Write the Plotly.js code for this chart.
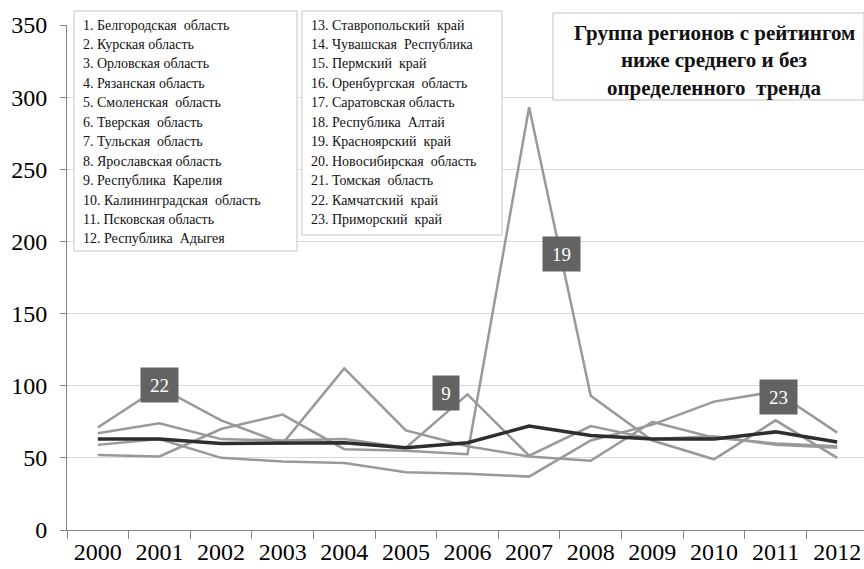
<!DOCTYPE html>
<html>
<head>
<meta charset="utf-8">
<script src="https://cdn.plot.ly/plotly-3.0.1.min.js"></script>
<style>
html,body{margin:0;padding:0;overflow:hidden;background:#fff;}
#chart{width:870px;height:569px;}
</style>
</head>
<body>
<div id="chart"></div>
<script>
// ---- data ----
const years = ['2000','2001','2002','2003','2004','2005','2006','2007','2008','2009','2010','2011','2012'];
const r22 = [71, 99, 76, 60, 112, 69, 58, 51, 48, 75, 64, 60, 58];
const r9  = [67, 74, 63, 62, 63, 57, 94, 51.5, 72, 63, 65, 59, 57];
const r19 = [52, 51, 70, 80, 56, 55, 52.5, 293, 93, 62, 49, 76, 50];
const r23 = [59, 63, 50, 47.5, 46.5, 40, 39, 37, 62, 73, 89, 96, 67.5];
const avg = [63, 63, 60, 60, 60.5, 57, 60.5, 72, 65.5, 63, 63, 68, 61];
const seriesLabels = ['22', '9', '19', '23'];
const legendLeft = [
 '1. Белгородская  область','2. Курская область','3. Орловская область','4. Рязанская область',
 '5. Смоленская  область','6. Тверская  область','7. Тульская  область','8. Ярославская область',
 '9. Республика  Карелия','10. Калининградская  область','11. Псковская область','12. Республика  Адыгея'];
const legendRight = [
 '13. Ставропольский  край','14. Чувашская  Республика','15. Пермский  край','16. Оренбургская  область',
 '17. Саратовская область','18. Республика  Алтай','19. Красноярский  край','20. Новосибирская  область',
 '21. Томская  область','22. Камчатский  край','23. Приморский  край'];
const titleLines = ['Группа регионов с рейтингом','ниже среднего и без','определенного  тренда'];

// ---- geometry helpers ----
const W = 870, H = 569, ML = 67, MR = 2, MT = 25, MB = 39;
const PW = W - ML - MR, PH = H - MT - MB;
const px = v => (v - ML) / PW;
const py = v => (H - MB - v) / PH;

const gray = '#999999';
const mk = (y, c, w) => ({x: years, y: y, type: 'scatter', mode: 'lines',
  line: {color: c, width: w}, hoverinfo: 'skip'});
const traces = [mk(r19, gray, 2.5), mk(r23, gray, 2.5), mk(r9, gray, 2.5), mk(r22, gray, 2.5), mk(avg, '#2e2e2e', 3.5)];

const serif = 'Liberation Serif';
const annotations = [];
const shapes = [];

// data label boxes
const labelPos = [[1, 100.5, 37], [5.65, 95.3, 26], [7.53, 191.4, 37], [11.04, 92.5, 37]];
seriesLabels.forEach((t, i) => {
  annotations.push({x: labelPos[i][0], y: labelPos[i][1], xref: 'x', yref: 'y', text: t,
    showarrow: false, bgcolor: '#636363', borderpad: 0, width: labelPos[i][2], height: 34,
    font: {family: serif, size: 19, color: '#ffffff'}, xanchor: 'center', yanchor: 'middle'});
});

// legend boxes
shapes.push({type: 'rect', xref: 'paper', yref: 'paper', x0: px(74), x1: px(297), y0: py(251), y1: py(11),
  line: {color: '#c4c4c4', width: 1}, fillcolor: '#ffffff', layer: 'above'});
shapes.push({type: 'rect', xref: 'paper', yref: 'paper', x0: px(302), x1: px(502), y0: py(235), y1: py(11),
  line: {color: '#c4c4c4', width: 1}, fillcolor: '#ffffff', layer: 'above'});
shapes.push({type: 'rect', xref: 'paper', yref: 'paper', x0: px(553), x1: px(864), y0: py(100), y1: py(13),
  line: {color: '#c4c4c4', width: 1}, fillcolor: '#ffffff', layer: 'above'});

legendLeft.forEach((t, i) => annotations.push({xref: 'paper', yref: 'paper', x: px(81), y: py(25 + i * 19.45),
  text: t, showarrow: false, xanchor: 'left', yanchor: 'middle', font: {family: serif, size: 14, color: '#111'}}));
legendRight.forEach((t, i) => annotations.push({xref: 'paper', yref: 'paper', x: px(309), y: py(25 + i * 19.45),
  text: t, showarrow: false, xanchor: 'left', yanchor: 'middle', font: {family: serif, size: 14, color: '#111'}}));
titleLines.forEach((t, i) => annotations.push({xref: 'paper', yref: 'paper', x: px(714), y: py(33 + i * 27.3),
  text: '<b>' + t + '</b>', showarrow: false, xanchor: 'center', yanchor: 'middle',
  font: {family: serif, size: 21, color: '#111'}}));

const layout = {
  width: W, height: H,
  margin: {l: ML, r: MR, t: MT, b: MB, pad: 0},
  paper_bgcolor: '#fff', plot_bgcolor: '#fff',
  showlegend: false,
  xaxis: {type: 'category', range: [-0.5, 12.5], tickson: 'boundaries', ticks: 'outside', ticklen: 8,
    tickcolor: '#868686', showline: true, linecolor: '#868686', linewidth: 1, showgrid: false,
    zeroline: false, tickfont: {family: serif, size: 24, color: '#000'}, fixedrange: true},
  yaxis: {range: [0, 350], dtick: 50, tick0: 0, ticks: 'outside', ticklen: 6, tickcolor: '#868686',
    showline: true, linecolor: '#868686', linewidth: 1, showgrid: true, gridcolor: '#d9d9d9',
    zeroline: false, ticklabelstandoff: 8, tickfont: {family: serif, size: 24, color: '#000'}, fixedrange: true},
  annotations: annotations,
  shapes: shapes
};
Plotly.newPlot('chart', traces, layout, {staticPlot: true, displayModeBar: false});
</script>
</body>
</html>
